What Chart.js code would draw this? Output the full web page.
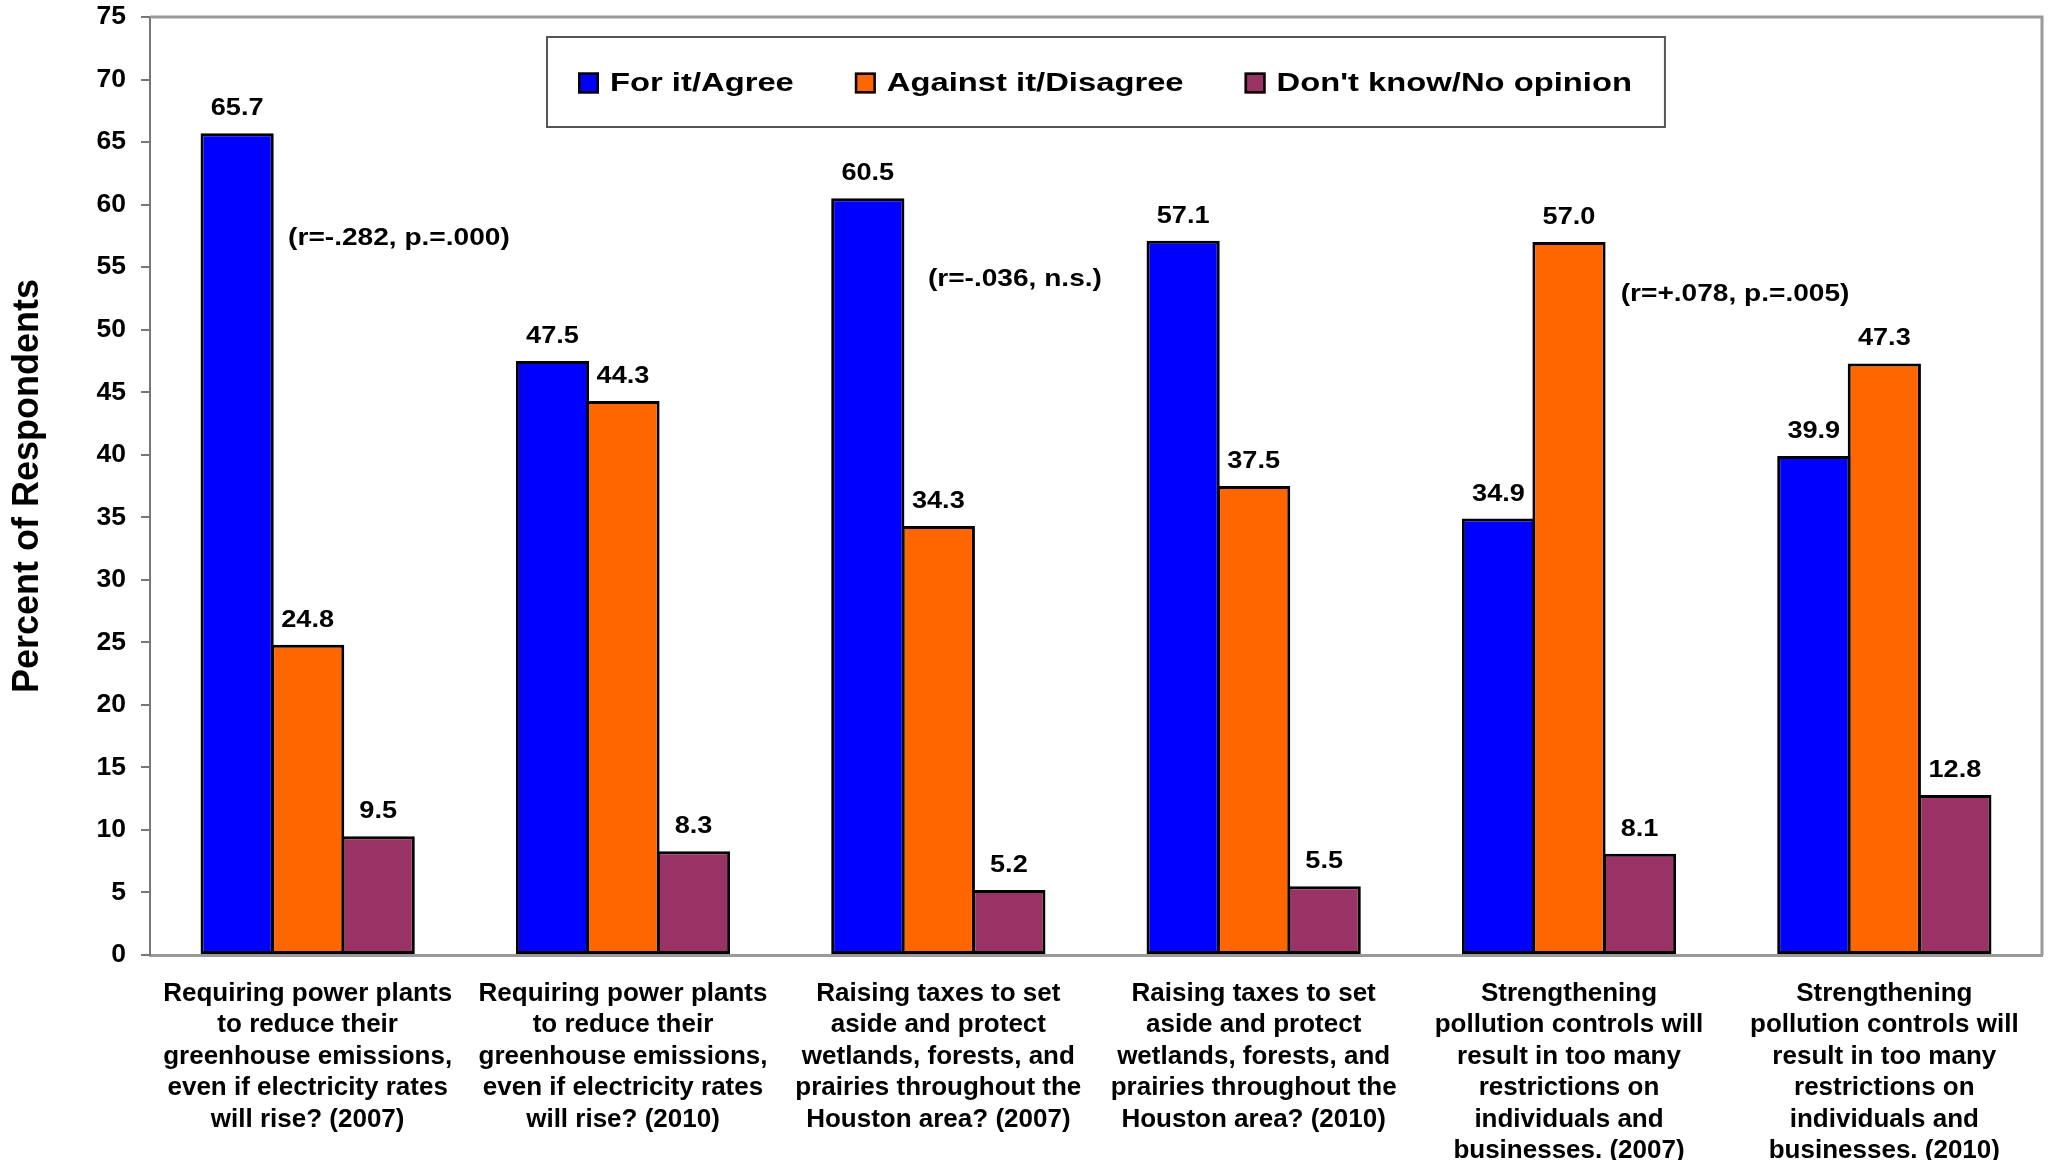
<!DOCTYPE html>
<html>
<head>
<meta charset="utf-8">
<title>Public support for environmental measures, 2007 and 2010</title>
<script src="https://cdn.jsdelivr.net/npm/chart.js@4.4.1/dist/chart.umd.min.js"></script>
<style>
  html, body { margin: 0; padding: 0; background: #ffffff; }
  canvas { display: block; }
</style>
</head>
<body>
<canvas id="chart" width="2049" height="1160"></canvas>
<script>
// ---- data ----
const categories = [
  ['Requiring power plants', 'to reduce their', 'greenhouse emissions,', 'even if electricity rates', 'will rise? (2007)'],
  ['Requiring power plants', 'to reduce their', 'greenhouse emissions,', 'even if electricity rates', 'will rise? (2010)'],
  ['Raising taxes to set', 'aside and protect', 'wetlands, forests, and', 'prairies throughout the', 'Houston area? (2007)'],
  ['Raising taxes to set', 'aside and protect', 'wetlands, forests, and', 'prairies throughout the', 'Houston area? (2010)'],
  ['Strengthening', 'pollution controls will', 'result in too many', 'restrictions on', 'individuals and', 'businesses. (2007)'],
  ['Strengthening', 'pollution controls will', 'result in too many', 'restrictions on', 'individuals and', 'businesses. (2010)']
];

const seriesNames = ['For it/Agree', 'Against it/Disagree', "Don't know/No opinion"];

const forAgree        = [65.7, 47.5, 60.5, 57.1, 34.9, 39.9];
const againstDisagree = [24.8, 44.3, 34.3, 37.5, 57.0, 47.3];
const dontKnow        = [9.5, 8.3, 5.2, 5.5, 8.1, 12.8];

const yTickValues = [0, 5, 10, 15, 20, 25, 30, 35, 40, 45, 50, 55, 60, 65, 70, 75];

const yAxisTitle = 'Percent of Respondents';

const correlationNotes = ['(r=-.282, p.=.000)', '(r=-.036, n.s.)', '(r=+.078, p.=.005)'];

// ---- styling ----
const FONT = "'Liberation Sans', Arial, Helvetica, sans-serif";
const seriesColors = ['#0000FF', '#FF6600', '#993366'];

// where each correlation note sits: category index + fraction of a category, and a y value
const notePlacement = [
  { category: 0, shift: -0.062, value: 57.3 },
  { category: 2, shift: -0.033, value: 54.0 },
  { category: 4, shift: 0.164, value: 52.8 }
];

// bold text, widened horizontally
function wideText(ctx, text, x, y, size, stretch, align, baseline) {
  ctx.save();
  ctx.font = 'bold ' + size + 'px ' + FONT;
  ctx.fillStyle = '#000';
  ctx.textAlign = align;
  ctx.textBaseline = baseline;
  ctx.translate(x, y);
  ctx.scale(stretch, 1);
  ctx.fillText(text, 0, 0);
  ctx.restore();
}

// top and right edges of the plot frame
const frameLines = {
  id: 'frameLines',
  beforeDatasetsDraw(chart) {
    const { ctx, chartArea: a } = chart;
    ctx.save();
    ctx.strokeStyle = '#9a9a9a';
    ctx.lineWidth = 3;
    ctx.beginPath();
    ctx.moveTo(a.left, a.top);
    ctx.lineTo(a.right, a.top);
    ctx.lineTo(a.right, a.bottom);
    ctx.stroke();
    ctx.restore();
  }
};

// value labels above each bar
const barValueLabels = {
  id: 'barValueLabels',
  afterDatasetsDraw(chart) {
    const { ctx } = chart;
    chart.data.datasets.forEach((ds, di) => {
      const meta = chart.getDatasetMeta(di);
      meta.data.forEach((bar, i) => {
        wideText(ctx, ds.data[i].toFixed(1), bar.x, bar.y - 18, 23, 1.18, 'center', 'alphabetic');
      });
    });
  }
};

// correlation notes next to each pair of years
const noteLabels = {
  id: 'noteLabels',
  afterDatasetsDraw(chart) {
    const { ctx, scales: { x, y } } = chart;
    const step = x.width / categories.length;
    correlationNotes.forEach((txt, i) => {
      const p = notePlacement[i];
      const px = x.getPixelForValue(p.category) + p.shift * step;
      const py = y.getPixelForValue(p.value);
      wideText(ctx, txt, px, py, 24, 1.17, 'left', 'middle');
    });
  }
};

// framed legend inside the plot area
const boxedLegend = {
  id: 'boxedLegend',
  afterDatasetsDraw(chart) {
    const { ctx, chartArea: a } = chart;
    const size = 26, stretch = 1.26, sq = 21, gap = 11, between = 61, padL = 31, padR = 33;
    const boxX = a.left + 397, boxY = a.top + 20, boxH = 90;
    ctx.save();
    ctx.font = 'bold ' + size + 'px ' + FONT;
    const widths = chart.data.datasets.map(d => ctx.measureText(d.label).width * stretch);
    let total = padL + padR;
    widths.forEach((w, i) => { total += sq + gap + w + (i < widths.length - 1 ? between : 0); });
    ctx.fillStyle = '#fff';
    ctx.fillRect(boxX, boxY, total, boxH);
    ctx.strokeStyle = '#555';
    ctx.lineWidth = 2;
    ctx.strokeRect(boxX, boxY, total, boxH);
    const cy = boxY + boxH / 2 + 1;
    let cx = boxX + padL;
    chart.data.datasets.forEach((d, i) => {
      ctx.fillStyle = d.backgroundColor;
      ctx.fillRect(cx, cy - sq / 2, sq, sq);
      ctx.strokeStyle = '#000';
      ctx.lineWidth = 2.5;
      ctx.strokeRect(cx + 1.25, cy - sq / 2 + 1.25, sq - 2.5, sq - 2.5);
      wideText(ctx, d.label, cx + sq + gap, cy + 1, size, stretch, 'left', 'middle');
      cx += sq + gap + widths[i] + between;
    });
    ctx.restore();
  }
};

const seriesValues = [forAgree, againstDisagree, dontKnow];

new Chart(document.getElementById('chart'), {
  type: 'bar',
  data: {
    labels: categories,
    datasets: seriesNames.map((name, i) => ({
      label: name,
      data: seriesValues[i],
      backgroundColor: seriesColors[i],
      borderColor: '#000',
      borderWidth: 3,
      borderSkipped: false,
      categoryPercentage: 0.671,
      barPercentage: 1.038
    }))
  },
  options: {
    responsive: false,
    animation: false,
    devicePixelRatio: 1,
    layout: { padding: { top: 17, right: 7, left: 0, bottom: 0 } },
    plugins: {
      legend: { display: false },
      tooltip: { enabled: false }
    },
    scales: {
      x: {
        afterFit: s => { s.height = 205; },
        grid: { display: false },
        border: { display: true, color: '#999', width: 3 },
        ticks: {
          color: '#000',
          font: { family: FONT, size: 26, weight: 'bold', lineHeight: '31.5px' },
          padding: 15,
          autoSkip: false,
          maxRotation: 0,
          minRotation: 0
        }
      },
      y: {
        min: 0,
        max: 75,
        afterBuildTicks: s => { s.ticks = yTickValues.map(v => ({ value: v })); },
        afterFit: s => { s.width = 150; s.paddingTop = 0; s.paddingBottom = 0; },
        grid: { display: true, drawOnChartArea: false, drawTicks: true, tickLength: 9, color: '#777', lineWidth: 2 },
        border: { display: true, color: '#777', width: 2 },
        ticks: {
          color: '#000',
          font: { family: FONT, size: 26.5, weight: 'bold' },
          padding: 15
        },
        title: {
          display: true,
          text: yAxisTitle,
          color: '#000',
          font: { family: FONT, size: 36, weight: 'bold', lineHeight: 1 },
          padding: { top: 10, bottom: 0 }
        }
      }
    }
  },
  plugins: [frameLines, barValueLabels, noteLabels, boxedLegend]
});
</script>
</body>
</html>
